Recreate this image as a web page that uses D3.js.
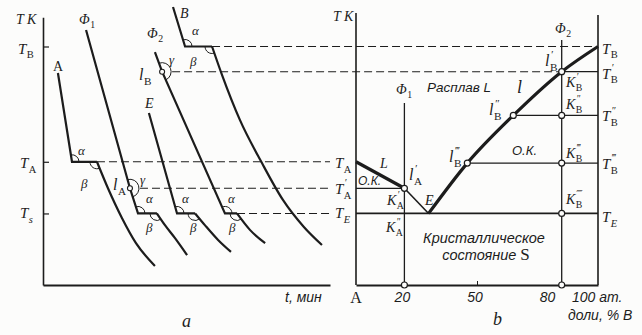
<!DOCTYPE html>
<html>
<head>
<meta charset="utf-8">
<script src="https://cdn.jsdelivr.net/npm/d3@7"></script>
<style>
  body { margin: 0; background: #fcfcfb; }
  svg { display: block; }
  text { fill: #1c1c1c; }
  .it { font-family: "Liberation Serif", "DejaVu Serif", serif; font-style: italic; }
  .up { font-family: "Liberation Serif", "DejaVu Serif", serif; }
  .rus { font-family: "Liberation Sans Narrow", "Liberation Sans", sans-serif; font-style: italic; }
</style>
</head>
<body>
<div id="chart"></div>
<script>

// temperature levels (arbitrary units, 0..100)
const TB = 90, TB1 = 80.5, TB2 = 64, TB3 = 46, TA = 46.5, TA1 = 36.5, TE = 27;

// cooling curves, [time, temperature]
const coolA    = [[5.2, 80], [10.1, TA], [18.8, TA], [22.6, 36.6], [27.5, 25.3], [32.4, 15.8], [39.0, 7.2]];
const coolPhi1 = [[15.0, 96.2], [30.3, TA1], [33.1, TE], [39.7, TE], [42.5, 22.6], [46.0, 17.7], [50.2, 11.3]];
const coolE    = [[36.9, 64.9], [46.7, TE], [53.0, TE], [56.4, 22.6], [61.0, 17], [65.5, 12.5]];
const coolPhi2 = [[39.0, 87.9], [41.5, TB1], [63.4, TE], [67.6, TE], [72.1, 20.8], [77.4, 15.8]];
const coolB    = [[45.3, 104.9], [49.5, TB], [58.9, TB], [62.4, 79.2], [68.6, 62.3], [76.3, 46], [83.6, 32.1], [90.9, 21.9], [97.2, 15.1]];
const coolCurves = [coolA, coolPhi1, coolE, coolPhi2, coolB];
const plateauStart = [1, 2, 1, 2, 1];
const kinkAt = [null, 1, null, 1, null];

// phase diagram, [% B, temperature]
const liqLeftUpper = [[0, TA], [20, TA1]];
const liqLeftLower = [[20, TA1], [30, TE]];
const liqRight = [[30, TE], [46, TB3], [65, TB2], [85, TB1], [100, TB]];
const phi1 = 20, phi2 = 85;
// horizontal tie lines [T, from %B, to %B]
const tieLines = [[TA1, 0, 20], [TE, 0, 100], [TB3, 46, 100], [TB2, 65, 100], [TB1, 85, 100]];
const points = [[85, TB1], [65, TB2], [85, TB2], [46, TB3], [85, TB3], [85, TE], [20, TA1], [20, 0], [85, 0]];
const xTickLabels = [["20", 20], ["50", 50], ["80", 80]];

const ink = "#1c1c1c", bg = "#fcfcfb";

const svg = d3.select("#chart").append("svg")
    .attr("width", 642)
    .attr("height", 335);

const tScale = d3.scaleLinear().domain([0, 100]).range([43, 330]);
const yT = d3.scaleLinear().domain([0, 101]).range([285, 17.35]);
const xC = d3.scaleLinear().domain([0, 100]).range([356, 598]);

// label helper: base symbol with optional subscript and superscript, one text element
function sym(g, x, y, base, sub, sup, size, subItalic) {
    size = size || 15;
    let t = g.append("text").attr("class", "it").attr("x", x).attr("y", y)
        .attr("font-size", size);
    t.append("tspan").text(base);
    let w = t.node().getComputedTextLength();
    if (sub) t.append("tspan").attr("x", x + w + 0.5).attr("y", y + size * 0.32)
        .attr("font-size", size * 0.7)
        .attr("font-style", subItalic ? "italic" : "normal").text(sub);
    if (sup) t.append("tspan").attr("x", x + w + 1).attr("y", y - size * 0.52)
        .attr("font-size", size * 0.68).text(sup);
}

function cornerArc(g, P, Q1, Q2, r) {
    let a0 = Math.atan2(Q1[1] - P[1], Q1[0] - P[0]);
    let a1 = Math.atan2(Q2[1] - P[1], Q2[0] - P[0]);
    let d = a1 - a0;
    while (d > Math.PI) d -= 2 * Math.PI;
    while (d <= -Math.PI) d += 2 * Math.PI;
    let p = d3.path();
    p.moveTo(P[0] + r * Math.cos(a0), P[1] + r * Math.sin(a0));
    p.arc(P[0], P[1], r, a0, a1, d < 0);
    g.append("path").attr("d", p.toString()).attr("fill", "none")
        .attr("stroke", ink).attr("stroke-width", 1);
}

// ---------- panel a: cooling curves ----------
let gA = svg.append("g");

let yAxis = gA.append("g").attr("transform", "translate(43,0)")
    .call(d3.axisLeft(yT).tickValues([TB, TA, TE]).tickSize(-6).tickSizeOuter(0).tickFormat(""));
yAxis.select(".domain").attr("stroke", ink).attr("stroke-width", 1.6);
yAxis.selectAll(".tick line").attr("stroke", ink).attr("stroke-width", 1.2);

let tAxis = gA.append("g").attr("transform", "translate(0,285)")
    .call(d3.axisBottom(tScale).tickValues([]).tickSizeOuter(0));
tAxis.select(".domain").attr("stroke", ink).attr("stroke-width", 2);

// dashed isotherms
let dashes = [
    [TB, tScale(coolB[2][0]), xC(100)],
    [TB1, tScale(coolPhi2[1][0]) + 10, xC(phi2)],
    [TA, tScale(coolA[2][0]), tScale(100)],
    [TA1, tScale(coolPhi1[1][0]) + 10, tScale(100)],
    [TE, tScale(coolPhi2[3][0]), tScale(100)]
];
gA.selectAll(".dash").data(dashes).enter().append("line")
    .attr("x1", d => d[1]).attr("x2", d => d[2])
    .attr("y1", d => yT(d[0])).attr("y2", d => yT(d[0]))
    .attr("stroke", ink).attr("stroke-width", 1.1)
    .attr("stroke-dasharray", "8,4");

let lineT = d3.line().x(d => tScale(d[0])).y(d => yT(d[1]));
let lineTs = d3.line().x(d => tScale(d[0])).y(d => yT(d[1])).curve(d3.curveMonotoneX);

coolCurves.forEach((pts, i) => {
    let tail = plateauStart[i] + 1;
    gA.append("path").attr("d", lineT(pts.slice(0, tail + 1)))
        .attr("fill", "none").attr("stroke", ink).attr("stroke-width", 2.2)
        .attr("stroke-linejoin", "miter");
    gA.append("path").attr("d", lineTs(pts.slice(tail)))
        .attr("fill", "none").attr("stroke", ink).attr("stroke-width", 2.2);
    let px = pts.map(d => [tScale(d[0]), yT(d[1])]);
    let s = plateauStart[i];
    cornerArc(gA, px[s], px[s - 1], px[s + 1], 7);
    cornerArc(gA, px[s + 1], px[s], px[s + 2], 7);
    if (kinkAt[i] !== null) {
        let k = kinkAt[i];
        cornerArc(gA, px[k], px[k - 1], px[k + 1], 9);
        gA.append("circle").attr("cx", px[k][0]).attr("cy", px[k][1]).attr("r", 2.5)
            .attr("fill", bg).attr("stroke", ink).attr("stroke-width", 1.1);
    }
});

// labels panel a
sym(gA, 16, 24, "T K", null, null, 14);
sym(gA, 18, yT(TB) + 7, "T", "B");
sym(gA, 20, yT(TA) + 6, "T", "A");
sym(gA, 20, yT(TE) + 5, "T", "s", null, 15, true);
gA.append("text").attr("class", "up").attr("x", 53).attr("y", 71).attr("font-size", 14).text("A");
sym(gA, 79, 24, "Φ", "1", null, 14);
sym(gA, 147, 38, "Φ", "2", null, 14);
sym(gA, 180, 18, "B", null, null, 14);
sym(gA, 145, 108, "E", null, null, 14);
sym(gA, 139, 80, "l", "B", null, 16);
sym(gA, 113, 190, "l", "A", null, 16);
let greek = [["γ", 169, 64], ["α", 192, 35], ["β", 190, 66],
    ["α", 78, 155], ["β", 81, 188], ["γ", 140, 184],
    ["α", 146, 203], ["β", 146, 232], ["α", 182, 203], ["β", 190, 232],
    ["α", 228, 203], ["β", 229, 232]];
gA.selectAll(".gr").data(greek).enter().append("text").attr("class", "it")
    .attr("x", d => d[1]).attr("y", d => d[2]).attr("font-size", 13).text(d => d[0]);
gA.append("text").attr("class", "rus").attr("x", 285).attr("y", 302).attr("font-size", 14).text("t, мин");
gA.append("text").attr("class", "it").attr("x", 182).attr("y", 327).attr("font-size", 18).text("a");

// ---------- panel b: phase diagram ----------
let gB = svg.append("g");

gB.append("line").attr("x1", xC(0)).attr("x2", xC(0)).attr("y1", yT(0)).attr("y2", 13)
    .attr("stroke", ink).attr("stroke-width", 1.6);
gB.append("line").attr("x1", xC(100)).attr("x2", xC(100)).attr("y1", yT(0)).attr("y2", 15)
    .attr("stroke", ink).attr("stroke-width", 1.6);
let xAxis = gB.append("g").attr("transform", "translate(0,285)")
    .call(d3.axisBottom(xC).tickValues([50]).tickSize(-4).tickSizeOuter(0).tickFormat(""));
xAxis.select(".domain").attr("stroke", ink).attr("stroke-width", 2);
xAxis.selectAll(".tick line").attr("stroke", ink);

// composition verticals
gB.append("line").attr("x1", xC(phi1)).attr("x2", xC(phi1)).attr("y1", yT(0)).attr("y2", 103)
    .attr("stroke", ink).attr("stroke-width", 1.3);
gB.append("line").attr("x1", xC(phi2)).attr("x2", xC(phi2)).attr("y1", yT(0)).attr("y2", 40)
    .attr("stroke", ink).attr("stroke-width", 1.3);

gB.selectAll(".tie").data(tieLines).enter().append("line")
    .attr("x1", d => xC(d[1])).attr("x2", d => xC(d[2]))
    .attr("y1", d => yT(d[0])).attr("y2", d => yT(d[0]))
    .attr("stroke", ink).attr("stroke-width", d => d[0] === TE ? 1.8 : 1.2);

let lineC = d3.line().x(d => xC(d[0])).y(d => yT(d[1])).curve(d3.curveMonotoneX);
gB.append("path").attr("d", lineC(liqLeftUpper)).attr("fill", "none").attr("stroke", ink).attr("stroke-width", 3.2);
gB.append("path").attr("d", lineC(liqLeftLower)).attr("fill", "none").attr("stroke", ink).attr("stroke-width", 1.6);
gB.append("path").attr("d", lineC(liqRight)).attr("fill", "none").attr("stroke", ink).attr("stroke-width", 3.2);

gB.selectAll(".pt").data(points).enter().append("circle")
    .attr("cx", d => xC(d[0])).attr("cy", d => yT(d[1])).attr("r", 3)
    .attr("fill", bg).attr("stroke", ink).attr("stroke-width", 1.2);

// axis labels
gB.append("text").attr("class", "up").attr("x", xC(0)).attr("y", 303).attr("text-anchor", "middle")
    .attr("font-size", 16).text("A");
gB.selectAll(".xl").data(xTickLabels).enter().append("text").attr("class", "rus")
    .attr("x", d => xC(d[1]) - 2).attr("y", 302).attr("text-anchor", "middle")
    .attr("font-size", 14).text(d => d[0]);
gB.append("text").attr("class", "rus").attr("x", 572).attr("y", 302).attr("font-size", 14).text("100 ат.");
gB.append("text").attr("class", "rus").attr("x", 568).attr("y", 320).attr("font-size", 14).text("доли, % В");
gB.append("text").attr("class", "it").attr("x", 493).attr("y", 325).attr("font-size", 18).text("b");

sym(gB, 333, 21, "T K", null, null, 14);
sym(gB, 602, yT(TB) + 7, "T", "B");
sym(gB, 602, yT(TB1) + 7, "T", "B", "′");
sym(gB, 602, yT(TB2) + 6, "T", "B", "″");
sym(gB, 602, yT(TB3) + 6, "T", "B", "‴");
sym(gB, 602, yT(TE) + 9, "T", "E", null, 15, true);
sym(gB, 335, yT(TA) + 6, "T", "A");
sym(gB, 335, yT(TA1) + 6, "T", "A", "′");
sym(gB, 335, yT(TE) + 5, "T", "E", null, 15, true);

sym(gB, 396, 94, "Φ", "1", null, 14);
sym(gB, 555, 33, "Φ", "2", null, 14);
gB.append("text").attr("class", "rus").attr("x", 427).attr("y", 92).attr("font-size", 13.5).text("Расплав L");
sym(gB, 517, 93, "l", null, null, 18);
sym(gB, 545, 66, "l", "B", "′", 16);
sym(gB, 566, 87, "K", "B", "′", 14);
sym(gB, 489, 115, "l", "B", "″", 16);
sym(gB, 566, 109, "K", "B", "″", 14);
gB.append("text").attr("class", "rus").attr("x", 512).attr("y", 155).attr("font-size", 13).text("О.К.");
sym(gB, 449, 162, "l", "B", "‴", 16);
sym(gB, 566, 158, "K", "B", "‴", 14);
sym(gB, 380, 168, "L", null, null, 14);
gB.append("text").attr("class", "rus").attr("x", 358).attr("y", 185).attr("font-size", 12).text("О.К.");
sym(gB, 409, 180, "l", "A", "′", 16);
sym(gB, 387, 205, "K", "A", "′", 14);
sym(gB, 425, 205, "E", null, null, 14);
sym(gB, 386, 232, "K", "A", "″", 14);
sym(gB, 566, 204, "K", "B", "⁗", 14);
gB.append("text").attr("class", "rus").attr("x", 484).attr("y", 243).attr("text-anchor", "middle")
    .attr("font-size", 14.5).text("Кристаллическое");
let st = gB.append("text").attr("class", "rus").attr("x", 486).attr("y", 260).attr("text-anchor", "middle")
    .attr("font-size", 14.5);
st.append("tspan").text("состояние ");
st.append("tspan").attr("font-style", "normal").attr("font-size", 17)
    .attr("font-family", "Liberation Serif").text("S");

</script>
</body>
</html>
